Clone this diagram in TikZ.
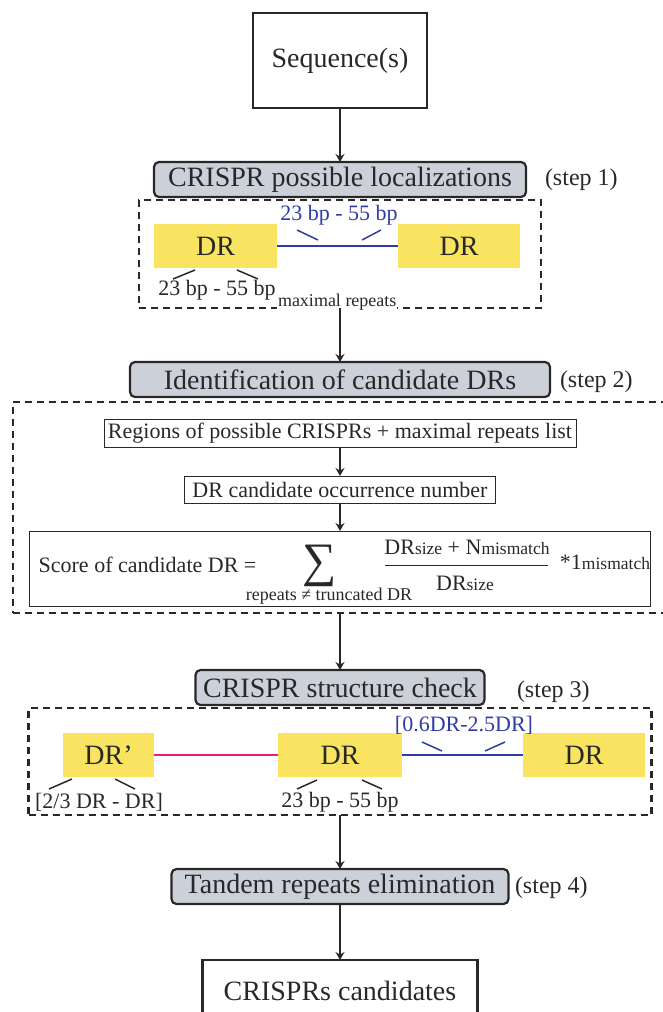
\documentclass[tikz,border=0pt]{standalone}
\usepackage{fontspec}
\setmainfont{Liberation Serif}
\usetikzlibrary{positioning, arrows.meta}

\definecolor{stepgray}{RGB}{204,209,217}
\definecolor{dryellow}{RGB}{248,228,96}
\definecolor{spanblue}{RGB}{46,60,165}
\definecolor{spacerpink}{RGB}{232,28,128}
\definecolor{inkgray}{RGB}{40,40,40}
\newcommand{\lowtext}[1]{{\fontsize{17.5}{19}\selectfont #1}}

\begin{document}
\begin{tikzpicture}[
        x=1pt, y=-1pt,
        every node/.style={text=inkgray, outer sep=0pt},
        endbox/.style={draw=inkgray, line width=2.5pt, minimum width=174pt, minimum height=95pt, font=\fontsize{28}{30}\selectfont},
        stepbox/.style={draw=inkgray, fill=stepgray, rounded corners=5pt, line width=2.2pt, minimum height=35pt, inner sep=2pt, font=\fontsize{28}{30}\selectfont},
        steplabel/.style={anchor=west, inner sep=0pt, font=\fontsize{24}{26}\selectfont},
        zone/.style={draw=inkgray, line width=2.6pt, dash pattern=on 7pt off 5pt},
        drbox/.style={fill=dryellow, minimum height=44pt, inner sep=0pt, font=\fontsize{28}{30}\selectfont},
        listbox/.style={draw=inkgray, line width=0.9pt, inner sep=0pt, font=\fontsize{22}{24}\selectfont},
        lenlabel/.style={inner sep=0pt, font=\fontsize{22}{24}\selectfont},
        smalltext/.style={inner sep=0pt, font=\fontsize{18}{20}\selectfont},
        notch/.style={draw=inkgray, line width=1.5pt},
        arrow/.style={-{Stealth[length=8pt, width=9pt]}, draw=inkgray, line width=2pt}
    ]
    \useasboundingbox (0,0) rectangle (662,1012);

    \node[endbox] (seq) at (340,60.5) {Sequence(s)};

    \node[stepbox, minimum width=372pt, below=54pt of seq] (loc) {CRISPR possible localizations};
    \node[steplabel] (step1) at (545,180) {(step 1)};
    \node[zone, minimum width=402pt, minimum height=108pt, below=3pt of loc] (zoneA) {};

    \node[drbox, minimum width=123pt] (drA) at (215.5,246) {DR};
    \node[drbox, minimum width=122pt] (drB) at (459,246) {DR};
    \draw[spanblue, line width=2.5pt] (drA) -- (drB);
    \node[lenlabel, text=spanblue] (spanA) at (339,215) {23 bp - 55 bp};
    \draw[notch, draw=spanblue] (297,230) -- (318,240);
    \draw[notch, draw=spanblue] (362,240) -- (381,230);
    \draw[notch] (173,279) -- (195,270);
    \draw[notch] (237,270) -- (258,279);
    \node[lenlabel] (sizeA) at (217,290) {23 bp - 55 bp};
    \node[smalltext, fill=white, anchor=west, inner sep=1pt] (maxrep) at (277,302) {maximal repeats};

    \node[stepbox, minimum width=420pt, below=54pt of zoneA] (ident) {Identification of candidate DRs};
    \node[steplabel] (step2) at (560,382) {(step 2)};
    \node[zone, minimum width=654pt, minimum height=211pt, below=5pt of ident] (zoneB) {};

    \node[listbox, minimum width=472pt, minimum height=28pt, below=17pt of zoneB.north] (regions) {Regions of possible CRISPRs + maximal repeats list};
    \node[listbox, minimum width=311pt, minimum height=27pt, below=29pt of regions] (occ) {DR candidate occurrence number};
    \node[listbox, minimum width=621pt, minimum height=75pt, below=28pt of occ] (score) {};
    \node[lenlabel] (scoretxt) at (147.5,565) {Score of candidate DR =};
    \node[inner sep=0pt, font=\fontsize{48}{48}\selectfont] (sigma) at (320,566) {∑};
    \node[lenlabel] (numer) at (467,547) {DR\lowtext{size} + N\lowtext{mismatch}};
    \draw[draw=inkgray, line width=1pt] (385,565) -- (548,565);
    \node[lenlabel] (denom) at (465,583) {DR\lowtext{size}};
    \node[lenlabel] (factor) at (605,562) {*1\lowtext{mismatch}};
    \node[smalltext] (cond) at (329,596) {repeats ≠ truncated DR};

    \node[stepbox, minimum width=289pt, below=57pt of zoneB] (check) {CRISPR structure check};
    \node[steplabel] (step3) at (517,692) {(step 3)};
    \node[zone, minimum width=623pt, minimum height=107pt, below=3pt of check] (zoneC) {};

    \node[drbox, minimum width=91pt] (drP) at (108.5,755) {DR’};
    \node[drbox, minimum width=124pt] (drC) at (340,755) {DR};
    \node[drbox, minimum width=122pt] (drD) at (584,755) {DR};
    \draw[spacerpink, line width=2.5pt] (drP) -- (drC);
    \draw[spanblue, line width=2.5pt] (drC) -- (drD);
    \node[lenlabel, text=spanblue] (spanC) at (464,725) {[0.6DR-2.5DR]};
    \draw[notch, draw=spanblue] (422,742) -- (442,751);
    \draw[notch, draw=spanblue] (485,751) -- (505,742);
    \draw[notch] (49,789) -- (72,779);
    \draw[notch] (115,779) -- (135,789);
    \node[lenlabel] (sizeP) at (99,802) {[2/3 DR - DR]};
    \draw[notch] (297,789) -- (317,780);
    \draw[notch] (362,780) -- (382,789);
    \node[lenlabel] (sizeC) at (340,802) {23 bp - 55 bp};

    \node[stepbox, minimum width=337pt, below=54pt of zoneC] (tandem) {Tandem repeats elimination};
    \node[steplabel] (step4) at (515,888) {(step 4)};
    \node[endbox, minimum width=275pt, minimum height=62pt, below=56pt of tandem] (result) {CRISPRs candidates};

    \draw[arrow] (seq) -- (loc);
    \draw[arrow] (zoneA) -- (ident);
    \draw[arrow] (regions) -- (occ);
    \draw[arrow] (occ) -- (score);
    \draw[arrow] (zoneB) -- (check);
    \draw[arrow] (zoneC) -- (tandem);
    \draw[arrow] (tandem) -- (result);

    \end{tikzpicture}
\end{document}
